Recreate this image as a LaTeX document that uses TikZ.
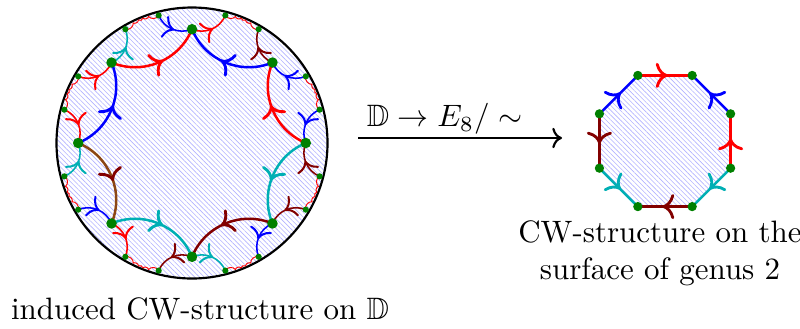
\documentclass[tikz,border=0pt]{standalone}
\usepackage{amsmath}
\usepackage{amssymb}
\usepackage{xcolor}
\usepackage{tikz}
\usetikzlibrary{arrows.meta, decorations.markings, patterns.meta}

\definecolor{dotgreen}{RGB}{0,128,0}
\definecolor{cyanish}{RGB}{0,175,180}
\definecolor{darkred}{RGB}{130,0,0}
\definecolor{brownish}{RGB}{140,70,20}

\begin{document}
\begin{tikzpicture}[
    x=0.323pt, y=0.323pt,
    >={Computer Modern Rightarrow},
    bigdot/.style={circle, fill=dotgreen, inner sep=0pt, minimum size=3.4pt},
    smalldot/.style={circle, fill=dotgreen, inner sep=0pt, minimum size=2pt},
    midarrow/.style={postaction={decorate}, decoration={markings, mark=at position 0.55 with {\arrow[#1]{>}}}},
    midarrow/.default={},
    side/.style={line width=0.8pt, midarrow={scale=1.15, #1}},
    side/.default={},
    outer/.style={line width=0.5pt, midarrow={scale=1.3}},
    tiny/.style={line width=0.3pt, red},
    hatch/.style={pattern={Lines[angle=-45, distance=1.1pt, line width=0.2pt]}, pattern color=blue!30}
]
    \useasboundingbox (0,0) rectangle (800,328);

    % the disk with the induced structure
    \begin{scope}[shift={(192,185)}, scale=135.5]
        \fill[hatch] (0,0) circle (1);
        \draw[line width=0.7pt] (0,0) circle (1);

        \foreach \k in {0,...,7} {
            \coordinate (v\k) at ({45*\k}:0.8409);
            \coordinate (p\k) at ({45*\k+14.64}:0.97457);
            \coordinate (q\k) at ({45*\k-14.64}:0.97457);
        }

        % tiny edges of the neighbouring octagons
        \foreach \m in {0,...,7} {
            \pgfmathtruncatemacro{\nxt}{mod(\m+1,8)}
            \foreach \j/\off/\rr in {1/3.56/0.98837, 2/1.07/0.99160, 3/-1.07/0.99160, 4/-3.56/0.98837}
                \coordinate (t\m-\j) at ({22.5+45*\m+(\off)}:\rr);
            \draw[tiny] (q\nxt) to[bend right=60] (t\m-1) to[bend right=65] (t\m-2)
                to[bend right=65] (t\m-3) to[bend right=65] (t\m-4) to[bend right=60] (p\m);
        }

        % edges leaving the central octagon
        \draw[outer, blue] (p2) to[bend right=45] (v2);
        \draw[outer, red] (v2) to[bend right=45] (q2);
        \draw[outer, darkred] (v1) to[bend left=45] (p1);
        \draw[outer, blue] (q1) to[bend left=45] (v1);
        \draw[outer, blue] (p0) to[bend right=45] (v0);
        \draw[outer, darkred] (q0) to[bend left=45] (v0);
        \draw[outer, darkred] (p7) to[bend right=45] (v7);
        \draw[outer, blue] (v7) to[bend right=45] (q7);
        \draw[outer, cyanish] (v6) to[bend left=45] (p6);
        \draw[outer, darkred] (v6) to[bend right=45] (q6);
        \draw[outer, red] (v5) to[bend left=45] (p5);
        \draw[outer, blue] (q5) to[bend left=45] (v5);
        \draw[outer, cyanish] (p4) to[bend right=45] (v4);
        \draw[outer, red] (q4) to[bend left=45] (v4);
        \draw[outer, red] (p3) to[bend right=45] (v3);
        \draw[outer, cyanish] (v3) to[bend right=45] (q3);

        % central octagon
        \draw[side, red] (v3) to[bend right=45] (v2);
        \draw[side, blue] (v1) to[bend left=45] (v2);
        \draw[side, blue] (v4) to[bend right=45] (v3);
        \draw[side, red] (v0) to[bend left=45] (v1);
        \draw[side, cyanish] (v0) to[bend right=45] (v7);
        \draw[side, darkred] (v7) to[bend right=45] (v6);
        \draw[side, cyanish] (v5) to[bend left=45] (v6);
        \draw[side=darkred, brownish] (v4) to[bend left=45] (v5);

        \foreach \k in {0,...,7} {
            \node[smalldot] (dp\k) at (p\k) {};
            \node[smalldot] (dq\k) at (q\k) {};
            \node[bigdot] (dv\k) at (v\k) {};
        }
    \end{scope}

    % the octagon of the surface
    \begin{scope}[shift={(665,187)}]
        \foreach \k in {0,...,7}
            \coordinate (o\k) at ({22.5+45*\k}:71);
        \fill[hatch] (o0) -- (o1) -- (o2) -- (o3) -- (o4) -- (o5) -- (o6) -- (o7) -- cycle;
        \draw[side, red] (o2) -- (o1);
        \draw[side, blue] (o0) -- (o1);
        \draw[side, red] (o7) -- (o0);
        \draw[side, cyanish] (o7) -- (o6);
        \draw[side, darkred] (o6) -- (o5);
        \draw[side, cyanish] (o4) -- (o5);
        \draw[side, darkred] (o3) -- (o4);
        \draw[side, blue] (o3) -- (o2);
        \foreach \k in {0,...,7}
            \node[bigdot, minimum size=3pt] (do\k) at (o\k) {};
    \end{scope}

    \coordinate (mapS) at (358,190);
    \coordinate (mapE) at (562,190);
    \draw[->, line width=0.7pt] (mapS) -- node[above=-2.5pt, xshift=-5pt] (maplabel) {$\mathbb{D}\to E_8/\sim$} (mapE);

    \node (disklabel) at (200,19) {induced CW-structure on $\mathbb{D}$};
    \node[align=center] (surflabel) at (660,75) {CW-structure on the\\surface of genus 2};
\end{tikzpicture}
\end{document}
